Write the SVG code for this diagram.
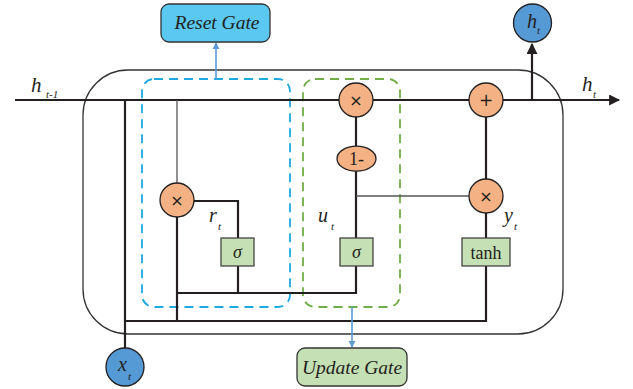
<svg xmlns="http://www.w3.org/2000/svg" width="633" height="389" viewBox="0 0 633 389">
<style>
.w{stroke:#231f20;stroke-width:2.2;fill:none}
.thin{stroke:#555;stroke-width:1.3;fill:none}
.op{fill:#f4b183;stroke:#231f20;stroke-width:1.3}
.box{fill:#c5e0b4;stroke:#444;stroke-width:1.3}
.io{fill:#5599d5;stroke:#231f20;stroke-width:1.3}
.t{font-family:"Liberation Serif","Times New Roman",serif;fill:#231f20}
.it{font-style:italic}
.sym{font-family:"DejaVu Sans",sans-serif;fill:#231f20;text-anchor:middle}
.blue{stroke:#5b9bd5;stroke-width:1.6;fill:none}
</style>
<defs>
<marker id="ab" viewBox="0 0 10 10" refX="9" refY="5" markerWidth="5" markerHeight="5" orient="auto"><path d="M0,0L10,5L0,10z" fill="#231f20"/></marker>
<marker id="bl" viewBox="0 0 10 10" refX="9" refY="5" markerWidth="4.5" markerHeight="4.5" orient="auto"><path d="M0,0L10,5L0,10z" fill="#5b9bd5"/></marker>
</defs>
<rect id="cell" x="83" y="70" width="480" height="264" rx="45" ry="45" fill="none" stroke="#333" stroke-width="1.3"/>
<rect id="reset-region" x="142" y="79" width="148" height="228" rx="12" fill="none" stroke="#1ea9e1" stroke-width="1.8" stroke-dasharray="9,6"/>
<rect id="update-region" x="303" y="79" width="97" height="228" rx="12" fill="none" stroke="#70ad47" stroke-width="1.8" stroke-dasharray="9,6"/>
<g id="connectors">
<line class="w" x1="15" y1="100" x2="619" y2="100" marker-end="url(#ab)"/>
<line class="w" x1="532" y1="100" x2="532" y2="44" marker-end="url(#ab)"/>
<line class="w" x1="125" y1="100" x2="125" y2="348"/>
<line class="thin" x1="177" y1="100" x2="177" y2="183"/>
<line class="w" x1="177" y1="217" x2="177" y2="321"/>
<polyline class="w" points="125,321 486,321 486,266"/>
<polyline class="w" points="194,201 238,201 238,238"/>
<line class="w" x1="238" y1="266" x2="238" y2="293"/>
<polyline class="w" points="177,293 356,293 356,266"/>
<line class="w" x1="356" y1="238" x2="356" y2="171"/>
<line class="w" x1="356" y1="146" x2="356" y2="117"/>
<line class="thin" x1="356" y1="196" x2="469" y2="196"/>
<line class="w" x1="486" y1="117" x2="486" y2="179"/>
<line class="w" x1="486" y1="213" x2="486" y2="238"/>
<line class="blue" x1="216" y1="79" x2="216" y2="43" marker-end="url(#bl)"/>
<line class="blue" x1="352" y1="307" x2="352" y2="347" marker-end="url(#bl)"/>
</g>
<g id="reset-gate"><rect x="161" y="4" width="109" height="38" rx="8" fill="#5ac8f0" stroke="#333" stroke-width="1.3"/><text class="t it" x="217" y="29" font-size="19.5" text-anchor="middle">Reset Gate</text></g>
<g id="update-gate"><rect x="297" y="348" width="110" height="38" rx="8" fill="#c5e0b4" stroke="#333" stroke-width="1.3"/><text class="t it" x="352" y="374" font-size="19.5" text-anchor="middle">Update Gate</text></g>
<g id="mul-r"><circle class="op" cx="177" cy="200" r="17"/><text class="sym" x="177" y="206" font-size="16">×</text></g>
<g id="sigma-r"><rect class="box" x="221" y="238" width="33" height="28"/><text class="t it" x="237.5" y="258" font-size="18" text-anchor="middle">σ</text></g>
<g id="mul-u"><circle class="op" cx="356" cy="100" r="17"/><text class="sym" x="356" y="106" font-size="16">×</text></g>
<g id="one-minus"><ellipse class="op" cx="356.5" cy="158.7" rx="19.5" ry="12.5"/><text class="t" x="356.5" y="165" font-size="18" text-anchor="middle">1-</text></g>
<g id="sigma-u"><rect class="box" x="340" y="238" width="33" height="28"/><text class="t it" x="356.5" y="258" font-size="18" text-anchor="middle">σ</text></g>
<g id="add"><circle class="op" cx="486" cy="100" r="17"/><text class="sym" x="486" y="106" font-size="17">+</text></g>
<g id="mul-y"><circle class="op" cx="486" cy="196" r="17"/><text class="sym" x="486" y="202" font-size="16">×</text></g>
<g id="tanh"><rect class="box" x="462" y="238" width="48" height="28"/><text class="t" x="486" y="259" font-size="18" text-anchor="middle">tanh</text></g>
<g id="ht-out"><circle class="io" cx="532.5" cy="23" r="19"/><text class="t it" x="527" y="28" font-size="20">h</text><text class="t it" x="537" y="34" font-size="11">t</text></g>
<g id="xt"><circle class="io" cx="125" cy="367" r="19"/><text class="t it" x="118" y="371" font-size="20">x</text><text class="t it" x="128" y="380" font-size="11">t</text></g>
<g id="labels">
<text class="t it" x="31" y="92" font-size="21">h</text><text class="t it" x="46" y="98" font-size="11">t-1</text>
<text class="t it" x="582" y="91" font-size="21">h</text><text class="t it" x="593" y="98" font-size="11">t</text>
<text class="t it" x="209" y="222" font-size="20">r</text><text class="t it" x="218" y="230" font-size="11">t</text>
<text class="t it" x="318" y="222" font-size="20">u</text><text class="t it" x="331" y="230" font-size="11">t</text>
<text class="t it" x="504" y="222" font-size="20">y</text><text class="t it" x="514" y="230" font-size="11">t</text>
</g>
</svg>
